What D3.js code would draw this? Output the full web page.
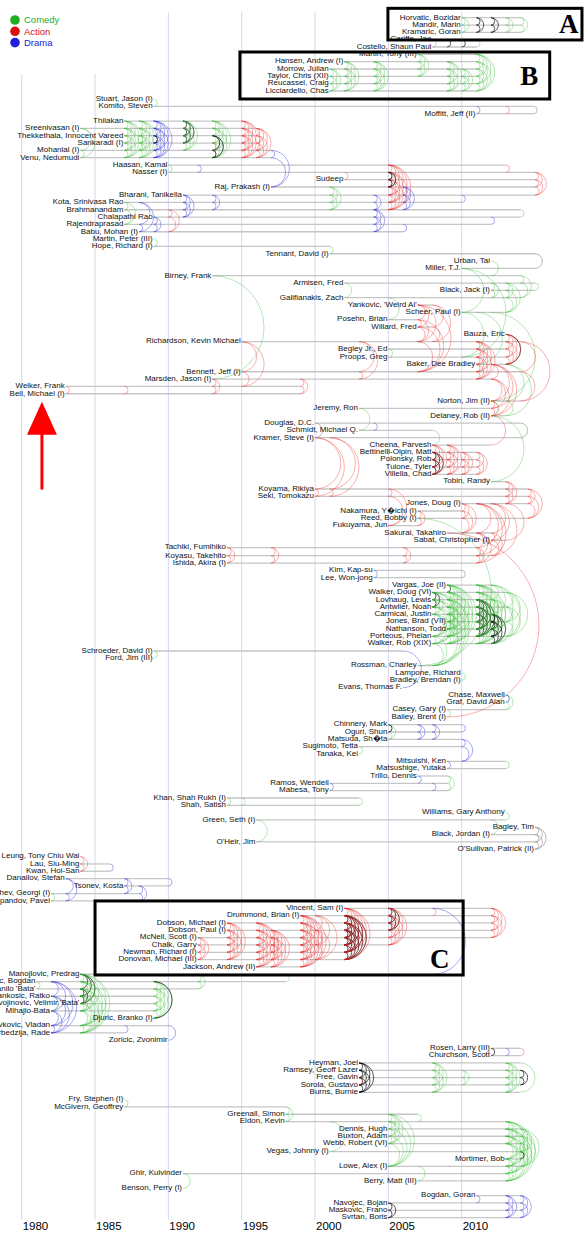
<!DOCTYPE html>
<html>
<head>
<meta charset="utf-8">
<script src="https://cdn.jsdelivr.net/npm/d3@7"></script>
<style>
  body { margin: 0; background: #fff; }
  svg { display: block; font-family: "Liberation Sans", Arial, Helvetica, sans-serif; }
</style>
</head>
<body>
<div id="chart"></div>
<script>
var genres = ["Comedy", "Action", "Drama"];
var legendColors = ["#1fb01f", "#d81010", "#2020d8"];
var tickYears = [1980, 1985, 1990, 1995, 2000, 2005, 2010];

var actorNames = [
  "Horvatic, Bozidar", "Mandir, Marin", "Kramaric, Goran", "Cariffe, Jae", "Costello, Shaun Paul",
  "Martin, Tony (III)", "Hansen, Andrew (I)", "Morrow, Julian", "Taylor, Chris (XII)", "Reucassel, Craig",
  "Licciardello, Chas", "Stuart, Jason (I)", "Komito, Steven", "Moffitt, Jeff (II)", "Thilakan",
  "Sreenivasan (I)", "Thekkethala, Innocent Vareed", "Sankaradi (I)", "Mohanlal (I)", "Venu, Nedumudi",
  "Haasan, Kamal", "Nasser (I)", "Sudeep", "Raj, Prakash (I)", "Bharani, Tanikella",
  "Kota, Srinivasa Rao", "Brahmanandam", "Chalapathi Rao", "Rajendraprasad", "Babu, Mohan (I)",
  "Martin, Peter (III)", "Hope, Richard (I)", "Tennant, David (I)", "Urban, Tai", "Miller, T.J.",
  "Birney, Frank", "Armisen, Fred", "Black, Jack (I)", "Galifianakis, Zach", "Yankovic, 'Weird Al'",
  "Scheer, Paul (I)", "Posehn, Brian", "Willard, Fred", "Bauza, Eric", "Richardson, Kevin Michael",
  "Begley Jr., Ed", "Proops, Greg", "Baker, Dee Bradley", "Bennett, Jeff (I)", "Marsden, Jason (I)",
  "Welker, Frank", "Bell, Michael (I)", "Norton, Jim (II)", "Jeremy, Ron", "Delaney, Rob (II)",
  "Douglas, D.C.", "Schmidt, Michael Q.", "Kramer, Steve (I)", "Cheena, Parvesh", "Bettinelli-Olpin, Matt",
  "Polonsky, Rob", "Tuione, Tyler", "Villella, Chad", "Tobin, Randy", "Koyama, Rikiya",
  "Seki, Tomokazu", "Jones, Doug (I)", "Nakamura, Y\uFFFDichi (I)", "Reed, Bobby (I)", "Fukuyama, Jun",
  "Sakurai, Takahiro", "Sabat, Christopher (I)", "Tachiki, Fumihiko", "Koyasu, Takehito", "Ishida, Akira (I)",
  "Kim, Kap-su", "Lee, Won-jong", "Vargas, Joe (II)", "Walker, Doug (VI)", "Lovhaug, Lewis",
  "Antwiler, Noah", "Carmical, Justin", "Jones, Brad (VII)", "Nathanson, Todd", "Porteous, Phelan",
  "Walker, Rob (XIX)", "Schroeder, David (I)", "Ford, Jim (III)", "Rossman, Charley", "Lampone, Richard",
  "Bradley, Brendan (I)", "Evans, Thomas F.", "Chase, Maxwell", "Graf, David Alan", "Casey, Gary (I)",
  "Bailey, Brent (I)", "Chinnery, Mark", "Oguri, Shun", "Matsuda, Sh\uFFFDta", "Sugimoto, Tetta",
  "Tanaka, Kei", "Mitsuishi, Ken", "Matsushige, Yutaka", "Trillo, Dennis", "Ramos, Wendell",
  "Mabesa, Tony", "Khan, Shah Rukh (I)", "Shah, Satish", "Williams, Gary Anthony", "Green, Seth (I)",
  "Bagley, Tim", "Black, Jordan (I)", "O'Heir, Jim", "O'Sullivan, Patrick (II)", "Leung, Tony Chiu Wai",
  "Lau, Siu-Ming", "Kwan, Hoi-San", "Danailov, Stefan", "Tsonev, Kosta", "Kaloyanchev, Georgi (I)",
  "Popandov, Pavel", "Vincent, Sam (I)", "Drummond, Brian (I)", "Dobson, Michael (I)", "Dobson, Paul (I)",
  "McNeil, Scott (I)", "Chalk, Garry", "Newman, Richard (I)", "Donovan, Michael (III)", "Jackson, Andrew (II)",
  "Manojlovic, Predrag", "Diklic, Bogdan", "Stojkovic, Danilo 'Bata'", "Tankosic, Ratko", "Zivojinovic, Velimir 'Bata'",
  "Mihajlo-Bata", "Djuric, Branko (I)", "Zivkovic, Vladan", "Serbedzija, Rade", "Zoricic, Zvonimir",
  "Rosen, Larry (III)", "Churchson, Scott", "Heyman, Joel", "Ramsey, Geoff Lazer", "Free, Gavin",
  "Sorola, Gustavo", "Burns, Burnie", "Fry, Stephen (I)", "McGivern, Geoffrey", "Greenall, Simon",
  "Eldon, Kevin", "Dennis, Hugh", "Buxton, Adam", "Webb, Robert (VI)", "Vegas, Johnny (I)",
  "Mortimer, Bob", "Lowe, Alex (I)", "Ghir, Kulvinder", "Berry, Matt (III)", "Benson, Perry (I)",
  "Bogdan, Goran", "Navojec, Bojan", "Maskovic, Frano", "Svrtan, Boris"
];

// vertical slot of each actor, in row units
var actorRows = [
  0, 1, 2, 3, 4, 5, 6, 7, 8, 9,
  10, 11.1, 12.1, 13.1, 14.1, 15.1, 16.1, 17.1, 18.1, 19.1,
  20.1, 21.1, 22.1, 23.1, 24.2, 25.2, 26.2, 27.2, 28.2, 29.2,
  30.2, 31.2, 32.2, 33.2, 34.2, 35.2, 36.2, 37.2, 38.2, 39.2,
  40.2, 41.2, 42.2, 43.2, 44.2, 45.2, 46.3, 47.3, 48.3, 49.3,
  50.3, 51.3, 52.3, 53.3, 54.3, 55.3, 56.3, 57.3, 58.3, 59.3,
  60.3, 61.3, 62.3, 63.3, 64.3, 65.3, 66.3, 67.3, 68.3, 69.3,
  70.3, 71.3, 72.3, 73.4, 74.4, 75.4, 76.4, 77.4, 78.4, 79.4,
  80.4, 81.4, 82.4, 83.4, 84.4, 85.4, 86.4, 87.4, 88.4, 89.4,
  90.4, 91.4, 92.4, 93.4, 94.4, 95.4, 96.45, 97.45, 98.45, 99.45,
  100.45, 101.45, 102.45, 103.45, 104.45, 105.45, 106.45, 107.45, 108.45, 109.45,
  110.45, 111.45, 112.45, 113.45, 114.45, 115.45, 116.45, 117.45, 118.45, 119.5,
  120.5, 121.5, 122.5, 123.5, 124.5, 125.5, 126.5, 127.5, 128.5, 129.5,
  130.5, 131.5, 132.5, 133.5, 134.5, 135.5, 136.5, 137.5, 138.5, 139.5,
  140.6, 141.6, 142.6, 143.6, 144.6, 145.6, 146.6, 147.6, 148.6, 149.6,
  150.6, 151.6, 152.6, 153.6, 154.7, 155.7, 156.7, 157.7, 158.7, 159.7,
  160.7, 161.7, 162.7, 163.7
];

// films: year, genre (C comedy, A action, D drama, K several, O other), cast (actor indexes)
var films = [
  [2010, "C", [0, 1, 2]], [2011, "K", [0, 1, 2]], [2012, "K", [0, 1, 2]], [2013, "C", [0, 1, 2]], [2014, "C", [0, 1, 2]],
  [2008, "C", [3, 4]], [2009, "K", [3, 4]], [2010, "K", [3, 4]], [2011, "C", [3, 4]],
  [2001, "C", [7, 8, 9, 10]], [2002, "C", [6, 7, 8, 9, 10]], [2004, "C", [6, 7, 8, 9, 10]], [2007, "C", [5, 6, 7, 8]],
  [2009, "C", [6, 7, 8, 9, 10]], [2010, "C", [7, 8, 9, 10]], [2011, "C", [5, 6, 7, 8, 9, 10]],
  [1989, "C", [11, 12]], [2011, "D", [12, 13]], [2013, "A", [12, 13]], [2014.9, "O", [12, 13]],

  [1984, "C", [15, 18, 19]], [1987, "C", [14, 15, 16, 17, 18, 19]], [1988, "C", [14, 15, 16, 17, 18, 19]],
  [1989, "D", [14, 15, 16, 17, 18, 19]], [1989, "K", [16, 17]], [1991, "K", [14, 15, 16, 17]], [1991, "C", [14, 15, 16, 17, 18]],
  [1993, "C", [14, 15, 16, 17, 18, 19]], [1993, "K", [16, 18, 19]], [1993, "A", [17, 18]],
  [1995, "A", [14, 15, 16, 17, 18, 19]], [1996, "A", [15, 16, 17, 18, 19]], [1997, "D", [18, 19, 23]],

  [1990, "C", [20, 21]], [1992, "D", [20, 21]], [2002, "A", [21, 22]], [2001, "C", [23, 24, 25, 26]],
  [2004, "D", [24, 25, 26]], [2005, "A", [20, 21, 22, 23, 24, 25, 26]], [2005, "K", [21, 22, 23]], [2006, "D", [23, 24, 25, 26]],
  [2010, "D", [24, 25]], [2012, "D", [27, 28]], [2013, "A", [20, 21]], [2014, "C", [26, 27]], [2015, "A", [21, 22, 23, 24]],
  [1987, "C", [25, 26, 28]], [1988, "D", [25, 28, 29]], [1989, "D", [27, 28, 29]], [1990, "A", [26, 27, 29]],
  [1991, "D", [24, 25, 26, 27]], [1993, "D", [24, 25, 26]], [2006, "D", [28, 29]], [2004, "D", [26, 27, 28, 29]],
  [1989, "C", [30, 31]], [2001, "C", [31, 32]],

  [2015, "O", [32, 34]], [2012, "C", [33, 35]], [1993, "C", [35, 49]], [2014, "C", [35, 36, 38]],
  [2002, "C", [36, 38]], [2005, "C", [38, 41]], [2012, "C", [36, 37, 38]], [2013, "C", [36, 37, 38, 40]], [2015, "C", [36, 37]],
  [2010, "C", [34, 40, 46]], [2011, "C", [40, 47]], [2012, "C", [40, 52]], [2013, "C", [47, 52, 54]],
  [2007, "A", [39, 41, 42, 44, 48]], [2008, "A", [39, 42, 44]], [2003, "A", [44, 48, 49]], [2005, "C", [45, 46]],
  [2011, "A", [44, 45, 46, 47, 48, 49]], [2012, "A", [47, 49, 52, 53, 54]], [2012, "A", [54, 58]],
  [2013, "K", [43, 47]], [2013, "A", [43, 44, 45, 46, 47]], [2014, "A", [44, 48, 52]],
  [1983, "A", [50, 51]], [1987, "A", [50, 51]], [1993, "A", [49, 50, 51]], [1995, "A", [44, 48, 50]], [1999, "A", [49, 50, 51]],

  [2012, "C", [52, 54]], [2003, "C", [53, 56]], [2004, "D", [55, 56]], [2000, "O", [55, 57]], [2014, "O", [55, 57]],
  [2000, "A", [57, 64, 65]], [2001, "A", [57, 64, 65]], [2008, "C", [56, 58]],
  [2008, "K", [59, 60, 61, 62]], [2008, "A", [58, 59, 60, 61, 62]], [2009, "A", [58, 59, 60, 61, 62]],
  [2010, "A", [59, 60, 61, 62]], [2011, "A", [59, 60, 61, 62]],
  [2012, "C", [54, 63]], [2013, "A", [63, 64, 65, 66]], [2014.5, "A", [64, 65, 66, 68]],
  [2005, "A", [64, 65, 69]], [2007, "A", [67, 68, 69]], [2010, "A", [66, 67, 68, 70]],
  [2011, "A", [66, 70, 72, 73, 74]], [2012, "A", [66, 70, 71, 73]], [2013, "A", [66, 71]],
  [1994, "A", [72, 73, 74]], [1997, "A", [72, 73, 74]], [2006, "A", [72, 73, 74]],
  [2004, "D", [75, 76]], [2010, "O", [75, 76]],
  [2007, "C", [68, 88]], [2009, "A", [70, 95]],

  [2008, "K", [78, 79, 80]], [2008, "C", [78, 79, 80, 81, 84, 85, 88]], [2009, "K", [77, 78]],
  [2009, "C", [77, 78, 79, 80, 81, 82, 83, 84, 85]],
  [2011, "K", [79, 80, 81, 82, 83, 84]], [2011, "C", [77, 78, 79, 80, 81, 82, 83, 84, 85]],
  [2012, "K", [81, 82, 83, 84, 85]], [2012, "C", [77, 79, 81, 83, 85]], [2013, "C", [78, 80, 82, 84]],

  [1989, "C", [86, 87]], [2006, "D", [86, 91]], [2010, "C", [89, 90]],
  [2013, "C", [92, 93, 94]], [2013, "D", [92, 93]], [2009, "C", [94, 95]],
  [2005, "C", [96, 97, 98]], [2005, "K", [96, 97]], [2007, "D", [96, 97, 98]], [2008, "D", [96, 97, 98]], [2010, "D", [96, 97]],
  [2003, "C", [99, 100]], [2010, "D", [98, 99, 101]], [2009, "D", [101, 102]], [2013, "C", [101, 102]],
  [2001, "D", [104, 105]], [2007, "D", [103, 104]], [2008, "D", [104, 105]], [2009, "C", [103, 104, 105]],
  [1994, "C", [106, 107]], [1995, "C", [106, 107]], [2003, "C", [106, 107]],
  [1996, "C", [109, 112]], [2012, "C", [109, 111]], [2013, "C", [108, 109]], [2015, "O", [110, 111, 112, 113]],
  [1984, "A", [114, 115, 116]], [1986, "D", [115, 116]],
  [1982, "C", [119, 120]], [1983, "D", [117, 119, 120]], [1987, "D", [117, 118, 119]], [1988, "D", [118, 119, 120]], [1990, "D", [117, 118]],

  [1992, "A", [125, 126, 127, 128]], [1994, "A", [123, 124, 125, 126, 127, 128]],
  [1996, "A", [123, 124, 125, 126, 127, 128, 129]], [1997, "A", [124, 125, 126, 127, 128, 129]],
  [1999, "A", [122, 123, 124, 125, 126, 127, 128, 129]], [2000, "A", [122, 124, 126, 128]],
  [2002, "K", [122, 123, 124, 125, 126, 127, 128]], [2002, "A", [121, 122, 123, 124, 125, 126, 127, 128]],
  [2005, "K", [121, 122, 123, 124]], [2005, "A", [121, 122, 123, 124, 125, 126]],
  [2008, "A", [121, 122]], [2008, "D", [121, 130]], [2012, "A", [121, 122, 123, 124, 125]],

  [1981, "C", [131, 132]], [1982, "D", [131, 133, 135, 137, 138]], [1982, "C", [133, 135]],
  [1984, "K", [130, 132, 133, 134]], [1984, "C", [130, 131, 132, 133, 134, 135, 137, 138]],
  [1989, "C", [131, 132, 133, 134, 135, 136]], [1989, "K", [131, 136]], [1992, "C", [130, 131, 132]], [1998, "C", [130, 131]],
  [1987, "D", [137, 138]], [1990, "D", [137, 139]],

  [2012, "K", [140, 141]], [2013, "D", [140, 141]], [2014, "A", [140, 141]],
  [2003, "K", [142, 143, 144, 145, 146]], [2003, "A", [144, 145]], [2008, "C", [142, 143, 144, 145, 146]], [2010, "C", [143, 144, 145]],
  [2013, "C", [142, 143, 144, 145, 146]], [2014, "K", [143, 144, 145]], [2014, "C", [142, 146]],
  [1987, "C", [147, 148]], [1998, "C", [148, 149, 150]],
  [2001, "C", [150, 154]], [2005, "C", [149, 150, 151, 152, 153, 156]], [2007, "C", [149, 150]], [2007, "C", [156, 158]],
  [2013, "C", [150, 151, 152, 153, 155, 156, 157, 158]], [2014, "K", [154, 155]], [2014, "C", [151, 152, 153, 154, 156]],
  [1991, "C", [157, 159]],
  [2005, "K", [161, 162, 163]], [2011, "D", [160, 161]], [2013, "D", [160, 161, 162, 163]], [2014, "D", [160, 161, 162, 163]]
];

// highlight boxes, in years and rows
var boxLabels = ["A", "B", "C"];
var boxYears = [[2004.97, 2018.2], [1994.88, 2016.0], [1985.0, 2010.1]];
var boxRows = [[-1.28, 3.04], [4.68, 11.09], [120.5, 130.6]];
var boxLabelAt = [[2017.3, 2.1], [2014.6, 9.2], [2008.5, 129.6]];
// red arrow: year, tip row, head row, tail row
var arrowAt = [1981.38, 52.4, 56.9, 64.2];

var width = 585, height = 1236;

var x = d3.scaleLinear().domain([1980, 2010]).range([21.7, 461.7]);
var y = d3.scaleLinear().domain([0, 100]).range([17.7, 750.7]);

var arcColor = { C: "#33bb33", A: "#ee2222", D: "#2828e0", K: "#000000", O: "#9a9a9a" };
var arcOpacity = { C: 0.45, A: 0.45, D: 0.5, K: 0.8, O: 0.85 };

var svg = d3.select("#chart").append("svg")
  .attr("width", width)
  .attr("height", height);

// year grid
svg.append("g").selectAll("line")
  .data(tickYears)
  .enter().append("line")
    .attr("x1", d => x(d)).attr("x2", d => x(d))
    .attr("y1", y(-0.78)).attr("y2", y(164))
    .attr("stroke", "#d6d6f0")
    .attr("stroke-width", 1);

svg.append("g").selectAll("text")
  .data(tickYears)
  .enter().append("text")
    .attr("x", d => x(d) + 1)
    .attr("y", y(165.4))
    .attr("font-size", "11.5px")
    .attr("fill", "#000")
    .text(d => d);

// span of each actor
var spans = actorNames.map(function() { return [Infinity, -Infinity]; });
films.forEach(function(f) {
  f[2].forEach(function(a) {
    spans[a][0] = Math.min(spans[a][0], f[0]);
    spans[a][1] = Math.max(spans[a][1], f[0]);
  });
});

var actors = actorNames.map(function(n, i) {
  return { name: n, row: actorRows[i], start: spans[i][0], end: spans[i][1] };
});

svg.append("g").selectAll("line")
  .data(actors.filter(d => isFinite(d.start)))
  .enter().append("line")
    .attr("x1", d => x(d.start)).attr("x2", d => x(d.end))
    .attr("y1", d => y(d.row)).attr("y2", d => y(d.row))
    .attr("stroke", "#c6c6c6")
    .attr("stroke-width", 1.3);

// one arc for every pair in a film
var arcs = [];
films.forEach(function(f) {
  var cast = f[2];
  for (var i = 0; i < cast.length; i++) {
    for (var j = i + 1; j < cast.length; j++) {
      arcs.push({ year: f[0], genre: f[1], a: cast[i], b: cast[j] });
    }
  }
});

svg.append("g").attr("fill", "none").selectAll("path")
  .data(arcs)
  .enter().append("path")
    .attr("d", function(d) {
      var y1 = y(Math.min(actorRows[d.a], actorRows[d.b]));
      var y2 = y(Math.max(actorRows[d.a], actorRows[d.b]));
      var r = (y2 - y1) / 2, xx = x(d.year);
      return "M" + xx + "," + y1 + " A" + r + "," + r + " 0 0 1 " + xx + "," + y2;
    })
    .attr("stroke", d => arcColor[d.genre])
    .attr("stroke-opacity", d => arcOpacity[d.genre])
    .attr("stroke-width", 0.8);

svg.append("g").selectAll("text")
  .data(actors.filter(d => isFinite(d.start)))
  .enter().append("text")
    .attr("x", d => x(d.start) - 1)
    .attr("y", d => y(d.row) + 1.8)
    .attr("text-anchor", "end")
    .attr("font-size", "8px")
    .attr("fill", "#111")
    .text(d => d.name);

// legend
svg.append("rect").attr("x", 0).attr("y", 0).attr("width", 110).attr("height", 74).attr("fill", "#fff");
var legend = svg.append("g").selectAll("g")
  .data(genres)
  .enter().append("g")
    .attr("transform", (d, i) => "translate(15," + (20 + i * 11.3) + ")");
legend.append("circle").attr("r", 4.8).attr("fill", (d, i) => legendColors[i]);
legend.append("text")
  .attr("x", 9).attr("dy", "0.35em")
  .attr("font-size", "9.5px")
  .attr("fill", (d, i) => legendColors[i])
  .text(d => d);

// highlight boxes
var boxes = svg.append("g").selectAll("g")
  .data(boxLabels)
  .enter().append("g");
boxes.append("rect")
  .attr("x", (d, i) => x(boxYears[i][0]))
  .attr("y", (d, i) => y(boxRows[i][0]))
  .attr("width", (d, i) => x(boxYears[i][1]) - x(boxYears[i][0]))
  .attr("height", (d, i) => y(boxRows[i][1]) - y(boxRows[i][0]))
  .attr("fill", "none")
  .attr("stroke", "#000")
  .attr("stroke-width", 3);
boxes.append("text")
  .attr("x", (d, i) => x(boxLabelAt[i][0]))
  .attr("y", (d, i) => y(boxLabelAt[i][1]))
  .attr("text-anchor", "middle")
  .attr("font-family", "'Liberation Serif', 'Times New Roman', serif")
  .attr("font-weight", "bold")
  .attr("font-size", "27px")
  .text(d => d);

// red arrow
var ax = x(arrowAt[0]), halfHead = x(arrowAt[0] + 1.02) - ax;
svg.append("line")
  .attr("x1", ax).attr("x2", ax)
  .attr("y1", y(arrowAt[2]) - 2).attr("y2", y(arrowAt[3]))
  .attr("stroke", "#f00")
  .attr("stroke-width", 3)
  .attr("stroke-linecap", "round");
svg.append("path")
  .attr("d", "M" + ax + "," + y(arrowAt[1]) + " L" + (ax + halfHead) + "," + y(arrowAt[2]) +
    " L" + (ax - halfHead) + "," + y(arrowAt[2]) + " Z")
  .attr("fill", "#f00");
</script>
</body>
</html>
